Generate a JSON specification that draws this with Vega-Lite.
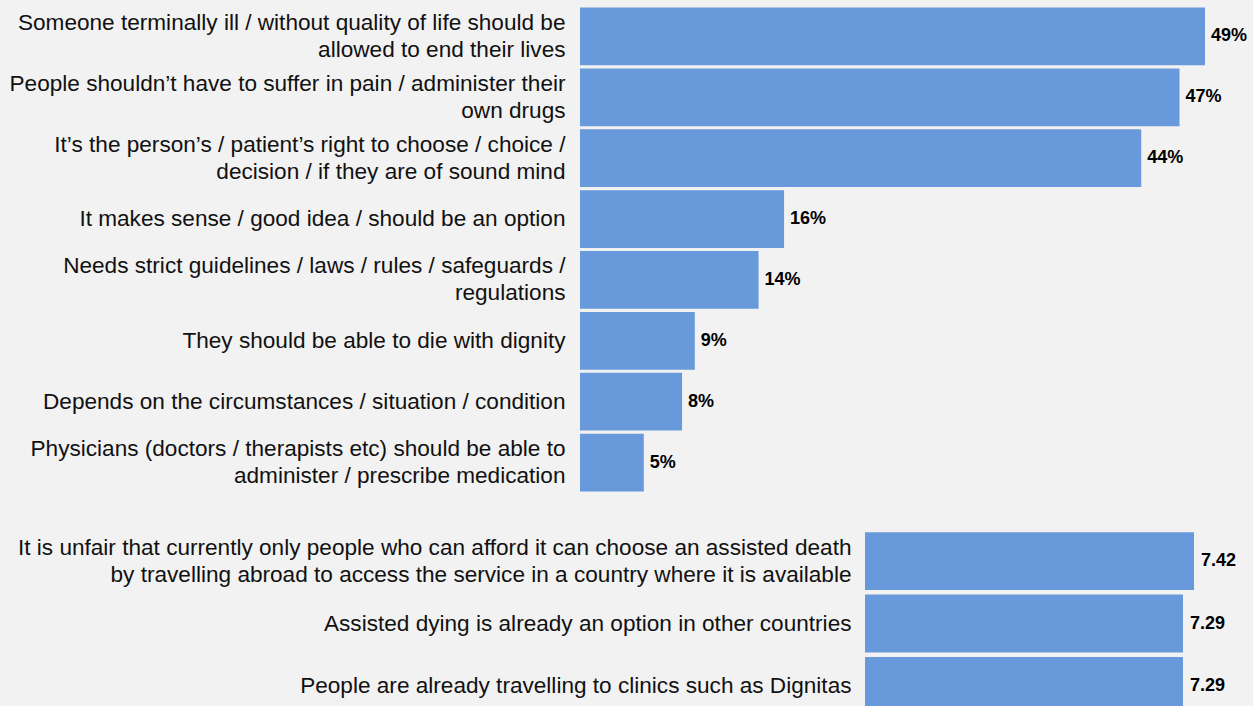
{
  "$schema": "https://vega.github.io/schema/vega-lite/v6.json",
  "background": "#f2f2f2",
  "padding": {"left": 9, "top": 6, "right": 5, "bottom": 0},
  "config": {
    "view": {"stroke": null},
    "font": "Liberation Sans",
    "axis": {"domain": false, "ticks": false, "grid": false, "labelFont": "Liberation Sans", "labelFontSize": 22.6, "labelColor": "#111", "labelLimit": 1000, "labelLineHeight": 27, "labelPadding": 15, "title": null}
  },
  "datasets": {
    "top": [
      {"reason": "Someone terminally ill / without quality of life should be|allowed to end their lives", "share": 0.49},
      {"reason": "People shouldn’t have to suffer in pain / administer their|own drugs", "share": 0.47},
      {"reason": "It’s the person’s / patient’s right to choose / choice /|decision / if they are of sound mind", "share": 0.44},
      {"reason": "It makes sense / good idea / should be an option", "share": 0.16},
      {"reason": "Needs strict guidelines / laws / rules / safeguards /|regulations", "share": 0.14},
      {"reason": "They should be able to die with dignity", "share": 0.09},
      {"reason": "Depends on the circumstances / situation / condition", "share": 0.08},
      {"reason": "Physicians (doctors / therapists etc) should be able to|administer / prescribe medication", "share": 0.05}
    ],
    "bottom": [
      {"statement": "It is unfair that currently only people who can afford it can choose an assisted death|by travelling abroad to access the service in a country where it is available", "score": 7.42},
      {"statement": "Assisted dying is already an option in other countries", "score": 7.29},
      {"statement": "People are already travelling to clinics such as Dignitas", "score": 7.29}
    ]
  },
  "spacing": 37,
  "vconcat": [
    {
      "data": {"name": "top"},
      "width": 625,
      "height": 487,
      "encoding": {
        "y": {"field": "reason", "type": "nominal", "sort": null,
              "scale": {"paddingInner": 0.05, "paddingOuter": 0.025},
              "axis": {"labelExpr": "split(datum.value, '|')",
                       "labelOffset": {"condition": {"test": "indexof(datum.value, '|') >= 0", "value": -13.5}, "value": 0}}},
        "x": {"field": "share", "type": "quantitative", "scale": {"domain": [0, 0.49]}, "axis": null}
      },
      "layer": [
        {"mark": {"type": "bar", "color": "#6899da"}},
        {"mark": {"type": "text", "align": "left", "dx": 6, "fontWeight": "bold", "fontSize": 18, "color": "#000"},
         "encoding": {"text": {"field": "share", "type": "quantitative", "format": ".0%"}}}
      ]
    },
    {
      "data": {"name": "bottom"},
      "width": 614,
      "height": 187,
      "encoding": {
        "y": {"field": "statement", "type": "nominal", "sort": null,
              "scale": {"paddingInner": 0.072, "paddingOuter": 0.036},
              "axis": {"labelExpr": "split(datum.value, '|')", "labelPadding": 14, "offset": -285,
                       "labelOffset": {"condition": {"test": "indexof(datum.value, '|') >= 0", "value": -13.5}, "value": 0}}},
        "x": {"field": "score", "type": "quantitative", "scale": {"domain": [0.162, 7.42], "zero": false}, "axis": null}
      },
      "layer": [
        {"mark": {"type": "bar", "color": "#6899da"}, "encoding": {"x2": {"datum": 3.531}}},
        {"mark": {"type": "text", "align": "left", "dx": 7, "fontWeight": "bold", "fontSize": 18, "color": "#000"},
         "encoding": {"text": {"field": "score", "type": "quantitative", "format": ".2f"}}}
      ]
    }
  ]
}
